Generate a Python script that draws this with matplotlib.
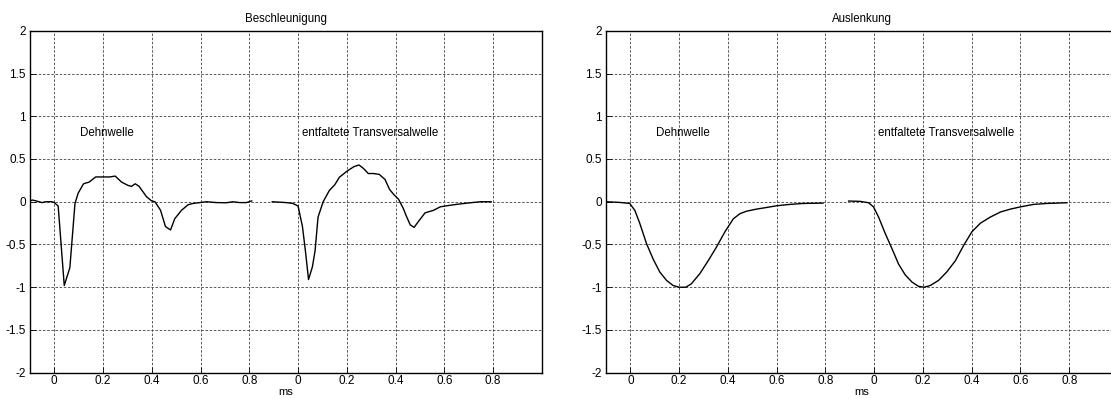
import matplotlib.pyplot as plt

plt.rcParams['font.family'] = ['Liberation Sans', 'DejaVu Sans']
plt.rcParams['axes.unicode_minus'] = False

# Beschleunigung - Dehnwelle
t_a_dehn = [-0.1, -0.09, -0.075, -0.05, -0.035, -0.01, 0.0, 0.016, 0.041, 0.064, 0.085, 0.098,
            0.12, 0.143, 0.17, 0.2, 0.228, 0.25, 0.276, 0.303, 0.317, 0.332, 0.348, 0.378,
            0.399, 0.413, 0.436, 0.456, 0.477, 0.494, 0.522, 0.549, 0.57, 0.597, 0.624,
            0.665, 0.706, 0.733, 0.76, 0.788, 0.81]
a_dehn = [0.01, 0.02, 0.01, -0.01, 0.0, 0.0, -0.01, -0.05, -0.98, -0.77, -0.02, 0.1,
          0.21, 0.23, 0.29, 0.29, 0.29, 0.3, 0.23, 0.19, 0.18, 0.21, 0.18, 0.06,
          0.01, 0.0, -0.1, -0.29, -0.33, -0.2, -0.1, -0.035, -0.02, -0.01, 0.0,
          -0.01, -0.012, 0.0, -0.01, -0.01, 0.01]
# Beschleunigung - entfaltete Transversalwelle
t_a_trans = [-0.106, -0.048, -0.021, 0.0, 0.018, 0.03, 0.043, 0.059, 0.07, 0.082, 0.103,
             0.128, 0.151, 0.169, 0.202, 0.229, 0.25, 0.268, 0.288, 0.309, 0.333, 0.357,
             0.375, 0.394, 0.412, 0.432, 0.443, 0.46, 0.476, 0.494, 0.521, 0.556, 0.583,
             0.611, 0.652, 0.707, 0.748, 0.792]
a_trans = [0.0, -0.01, -0.02, -0.05, -0.29, -0.57, -0.91, -0.76, -0.57, -0.18, 0.0,
           0.13, 0.2, 0.285, 0.36, 0.41, 0.43, 0.39, 0.33, 0.33, 0.32, 0.26,
           0.145, 0.08, 0.03, -0.08, -0.16, -0.27, -0.3, -0.23, -0.13, -0.1, -0.06,
           -0.047, -0.03, -0.012, 0.0, 0.0]
# Auslenkung - Dehnwelle
t_u_dehn = [-0.099, -0.044, -0.003, 0.018, 0.038, 0.066, 0.093, 0.12, 0.148, 0.175, 0.2,
            0.227, 0.25, 0.285, 0.319, 0.353, 0.388, 0.422, 0.449, 0.477, 0.518, 0.559,
            0.6, 0.655, 0.71, 0.79]
u_dehn = [0.0, -0.008, -0.02, -0.1, -0.25, -0.49, -0.67, -0.82, -0.92, -0.98, -1.0,
          -1.0, -0.96, -0.84, -0.69, -0.53, -0.35, -0.2, -0.14, -0.11, -0.086, -0.067,
          -0.047, -0.031, -0.02, -0.016]
# Auslenkung - entfaltete Transversalwelle
t_u_trans = [-0.105, -0.057, -0.023, -0.003, 0.018, 0.045, 0.073, 0.1, 0.127, 0.155, 0.182,
             0.205, 0.23, 0.264, 0.298, 0.333, 0.367, 0.401, 0.436, 0.476, 0.518, 0.559,
             0.6, 0.654, 0.709, 0.791]
u_trans = [0.008, 0.004, -0.012, -0.06, -0.18, -0.37, -0.55, -0.73, -0.855, -0.94, -0.99,
           -1.0, -0.98, -0.92, -0.82, -0.69, -0.51, -0.35, -0.25, -0.18, -0.12, -0.086,
           -0.06, -0.031, -0.02, -0.012]

titles = ['Beschleunigung', 'Auslenkung']
wave_labels = ['Dehnwelle', 'entfaltete Transversalwelle']
xtick_pos = [0, 0.2, 0.4, 0.6, 0.8, 1.0, 1.2, 1.4, 1.6, 1.8]
xtick_labels = ['0', '0.2', '0.4', '0.6', '0.8', '0', '0.2', '0.4', '0.6', '0.8']
ytick_pos = [-2, -1.5, -1, -0.5, 0, 0.5, 1, 1.5, 2]
ytick_labels = ['-2', '-1.5', '-1', '-0.5', '0', '0.5', '1', '1.5', '2']
shift = 1.0  # zweite Welle wird um 1 ms versetzt dargestellt

panels = [(t_a_dehn, a_dehn, t_a_trans, a_trans),
          (t_u_dehn, u_dehn, t_u_trans, u_trans)]

fig = plt.figure(figsize=(11.11, 3.99), dpi=100)
positions = [[0.0269, 0.0659, 0.4608, 0.857], [0.5455, 0.0659, 0.4608, 0.857]]

for pos, title, (t1, y1, t2, y2) in zip(positions, titles, panels):
    ax = fig.add_axes(pos)
    ax.plot(t1, y1, color='black', lw=1.0)
    ax.plot([t + shift for t in t2], y2, color='black', lw=1.0)
    ax.set_xlim(-0.1, 2.0)
    ax.set_ylim(-2, 2)
    ax.set_xticks(xtick_pos)
    ax.set_xticklabels(xtick_labels)
    ax.set_yticks(ytick_pos)
    ax.set_yticklabels(ytick_labels)
    ax.tick_params(direction='in', length=4, width=0.6, labelsize=8.5, pad=3)
    ax.tick_params(axis='x', pad=2)
    ax.grid(True, color='0.25', linestyle=(0, (3, 2)), lw=0.6)
    ax.set_axisbelow(True)
    for s in ax.spines.values():
        s.set_linewidth(1.0)
    ax.text(0.105, 0.8, wave_labels[0], fontsize=8.3, va='center', ha='left')
    ax.text(shift + 0.016, 0.8, wave_labels[1], fontsize=8.3, va='center', ha='left')
    ax.set_title(title, fontsize=8.3, pad=6)
    ax.set_xlabel('ms', fontsize=8, labelpad=0)

fig.savefig('out.png', dpi=100)
plt.close()
